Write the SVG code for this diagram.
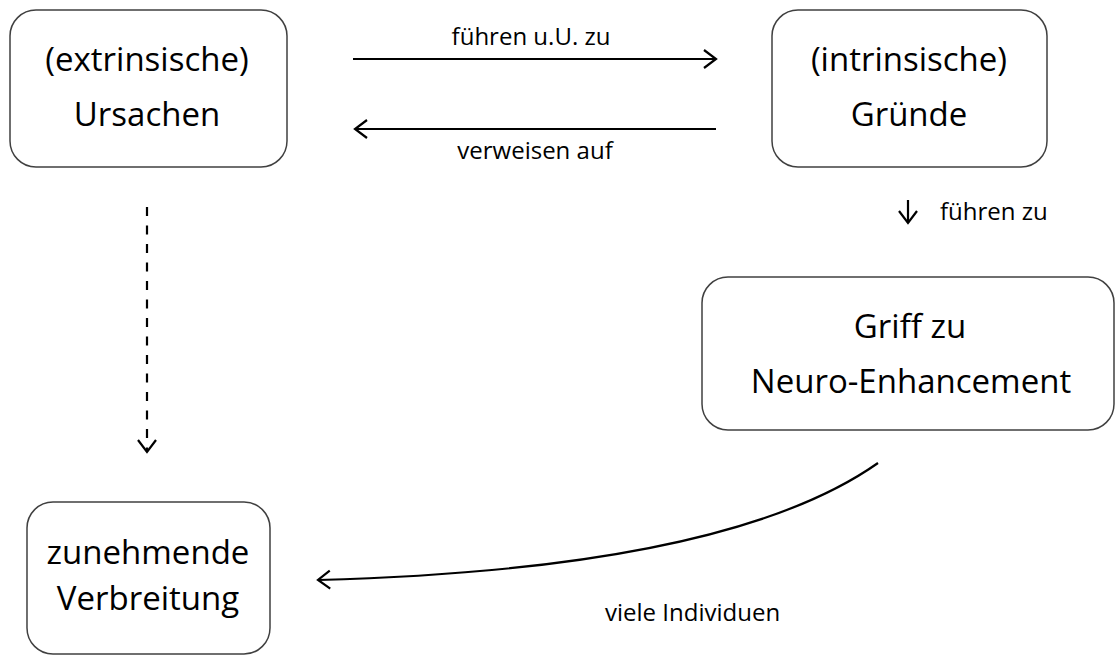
<svg xmlns="http://www.w3.org/2000/svg" width="1115" height="657" viewBox="0 0 1115 657">
<style>
.box{fill:#fff;stroke:#404040;stroke-width:1.5}
.bt{font-family:"Open Sans","Liberation Sans",sans-serif;font-size:33px;fill:#000;text-anchor:middle}
.lt{font-family:"Open Sans","Liberation Sans",sans-serif;font-size:24px;fill:#000}
.ln{fill:none;stroke:#000;stroke-width:2.2}
</style>
<defs>
<marker id="ah" viewBox="0 0 16 22" refX="14" refY="11" markerWidth="16" markerHeight="22" markerUnits="userSpaceOnUse" orient="auto">
<path d="M2,2 L14,11 L2,20" fill="none" stroke="#000" stroke-width="2.2"/>
</marker>
</defs>
<rect width="1115" height="657" fill="#fff"/>
<g id="ursachen">
<rect class="box" x="10" y="10" width="277" height="157" rx="26"/>
<text class="bt" x="147" y="71">(extrinsische)</text>
<text class="bt" x="147" y="126">Ursachen</text>
</g>
<g id="gruende">
<rect class="box" x="772" y="10" width="275" height="157" rx="26"/>
<text class="bt" x="909" y="71">(intrinsische)</text>
<text class="bt" x="909" y="126">Gründe</text>
</g>
<g id="griff">
<rect class="box" x="702" y="277" width="412" height="153" rx="26"/>
<text class="bt" x="910" y="338">Griff zu</text>
<text class="bt" x="911" y="393">Neuro-Enhancement</text>
</g>
<g id="verbreitung">
<rect class="box" x="27" y="502" width="243" height="152" rx="26"/>
<text class="bt" x="148" y="564">zunehmende</text>
<text class="bt" x="148" y="610">Verbreitung</text>
</g>
<g id="connectors">
<line class="ln" x1="353" y1="59" x2="716" y2="59" marker-end="url(#ah)"/>
<text class="lt" x="531" y="45" text-anchor="middle">führen u.U. zu</text>
<line class="ln" x1="716" y1="129" x2="355" y2="129" marker-end="url(#ah)"/>
<text class="lt" x="535" y="159" text-anchor="middle">verweisen auf</text>
<line class="ln" x1="908" y1="200" x2="908" y2="223" marker-end="url(#ah)"/>
<text class="lt" x="940" y="220">führen zu</text>
<line class="ln" x1="147" y1="207" x2="147" y2="452" stroke-dasharray="9,9.5" marker-end="url(#ah)"/>
<path class="ln" d="M878,463 C790,525 620,572 318,580" marker-end="url(#ah)"/>
<text class="lt" x="605" y="621">viele Individuen</text>
</g>
</svg>
